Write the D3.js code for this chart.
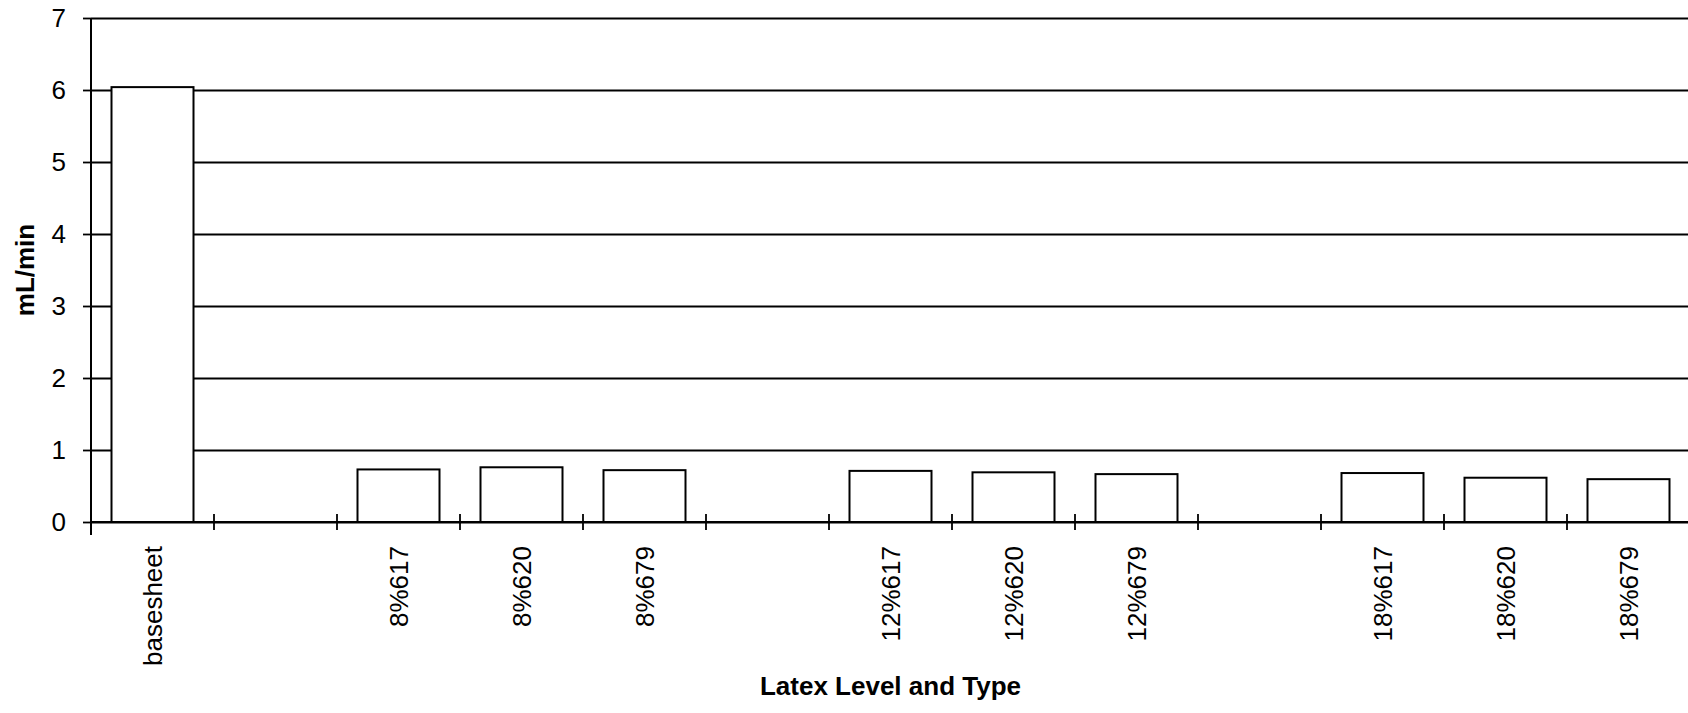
<!DOCTYPE html>
<html>
<head>
<meta charset="utf-8">
<script src="https://cdn.jsdelivr.net/npm/d3@7"></script>
<style>
  html, body { margin: 0; padding: 0; background: #fff; }
  svg { display: block; }
  text { font-family: "Liberation Sans", Arial, sans-serif; fill: #000; }
</style>
</head>
<body>
<svg id="chart" width="1688" height="713"></svg>
<script>
// ---- data ----
const categories = ["basesheet", "", "8%617", "8%620", "8%679", "", "12%617", "12%620", "12%679", "", "18%617", "18%620", "18%679"];
const values = [6.04, null, 0.73, 0.76, 0.72, null, 0.71, 0.69, 0.665, null, 0.68, 0.615, 0.595];
const yTicks = [0, 1, 2, 3, 4, 5, 6, 7];
const xTitle = "Latex Level and Type";
const yTitle = "mL/min";

(function () {
// ---- layout ----
const W = 1688, H = 713;
const mLeft = 91, mRight = 1690, mTop = 18, mBottom = 522;

const svg = d3.select("#chart");

const x = d3.scaleBand()
  .domain(d3.range(categories.length))
  .range([mLeft, mRight])
  .paddingInner(1 / 3)
  .paddingOuter(1 / 6);

const y = d3.scaleLinear().domain([0, 7]).range([mBottom, mTop]);

// gridlines
const grid = svg.append("g")
  .attr("transform", `translate(${mLeft},0)`)
  .call(d3.axisLeft(y).tickValues(yTicks).tickSize(-(W - mLeft)).tickFormat(""));
grid.select(".domain").remove();
grid.selectAll("line").attr("stroke", "#000").attr("stroke-width", 1.8);

// bars
svg.append("g").selectAll("rect")
  .data(values.map((v, i) => ({ v, i })).filter(d => d.v !== null))
  .join("rect")
  .attr("x", d => x(d.i))
  .attr("y", d => y(d.v))
  .attr("width", x.bandwidth())
  .attr("height", d => y(0) - y(d.v))
  .attr("fill", "#fff")
  .attr("stroke", "#000")
  .attr("stroke-width", 2);

// y axis
const yAxis = svg.append("g")
  .attr("transform", `translate(${mLeft},0)`)
  .call(d3.axisLeft(y).tickValues(yTicks).tickSize(8).tickPadding(17).tickFormat(d3.format("d")));
yAxis.select(".domain").attr("stroke", "#000").attr("stroke-width", 2)
  .attr("d", `M0,${mTop}V${mBottom + 13}`);
yAxis.selectAll(".tick line").attr("stroke", "#000").attr("stroke-width", 1.8);
yAxis.selectAll(".tick text")
  .style("font-size", "26px")
  .style("font-family", "'Liberation Sans', Arial, sans-serif")
  .attr("fill", "#000");

// x axis baseline
const xAxis = svg.append("g")
  .attr("transform", `translate(0,${mBottom})`)
  .call(d3.axisBottom(x).tickSize(0).tickPadding(0).tickFormat(i => categories[i]));
xAxis.select(".domain").attr("stroke", "#000").attr("stroke-width", 2)
  .attr("d", `M${mLeft},0H${W}`);
xAxis.selectAll(".tick text")
  .attr("transform", "rotate(-90)")
  .attr("x", -24)
  .attr("y", 0)
  .attr("dy", "0.36em")
  .attr("text-anchor", "end")
  .style("font-size", "26px")
  .style("font-family", "'Liberation Sans', Arial, sans-serif")
  .attr("fill", "#000");

// category boundary tick marks
const boundaries = d3.range(categories.length + 1)
  .map(i => x.range()[0] + i * x.step())
  .filter(v => v <= W);
xAxis.append("g").selectAll("line")
  .data(boundaries)
  .join("line")
  .attr("x1", d => d).attr("x2", d => d)
  .attr("y1", -8).attr("y2", 8)
  .attr("stroke", "#000").attr("stroke-width", 1.8);

// axis titles
svg.append("text")
  .attr("x", (mLeft + mRight) / 2)
  .attr("y", 695)
  .attr("text-anchor", "middle")
  .style("font-size", "26px")
  .style("font-weight", "bold")
  .text(xTitle);

svg.append("text")
  .attr("transform", `translate(34,${(mTop + mBottom) / 2}) rotate(-90)`)
  .attr("text-anchor", "middle")
  .style("font-size", "26px")
  .style("font-weight", "bold")
  .text(yTitle);
})();
</script>
</body>
</html>
